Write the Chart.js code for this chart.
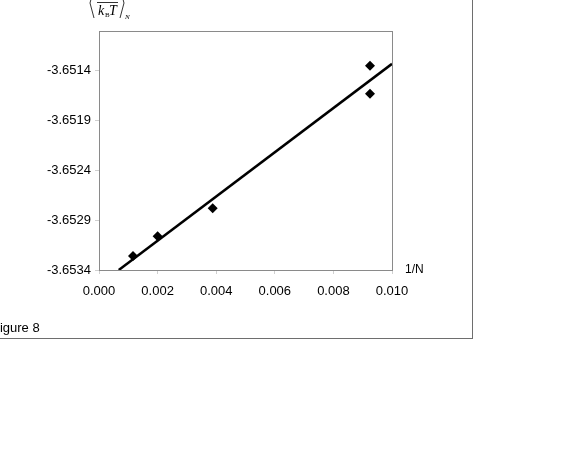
<!DOCTYPE html>
<html>
<head>
<meta charset="utf-8">
<script src="https://cdn.jsdelivr.net/npm/chart.js@4.4.1/dist/chart.umd.min.js"></script>
<style>
  html, body { margin: 0; padding: 0; background: #fff; }
  #wrap { width: 570px; height: 460px; }
</style>
</head>
<body>
<div id="wrap"><canvas id="fig8" width="570" height="460"></canvas></div>
<script>
// measured points: 1/N vs <1/(kB T)>_N
var invN = [0.00116, 0.0020, 0.00388, 0.00925, 0.00925];
var invKT = [-3.65326, -3.65306, -3.65278, -3.65135, -3.65163];

// fitted line at both ends
var fitX = [0.000675, 0.010];
var fitY = [-3.6534, -3.65133];

var yTicks = [-3.6534, -3.6529, -3.6524, -3.6519, -3.6514];
var xTicks = [0.000, 0.002, 0.004, 0.006, 0.008, 0.010];

var FONT = 'Arial, "Liberation Sans", sans-serif';

var extras = {
  id: 'extras',
  afterDraw: function(chart) {
    var ctx = chart.ctx;
    var a = chart.chartArea;
    ctx.save();
    // plot frame
    ctx.strokeStyle = '#8a8a8a';
    ctx.lineWidth = 1;
    ctx.strokeRect(Math.round(a.left) + 0.5, Math.round(a.top) + 0.5,
      Math.round(a.right - a.left), Math.round(a.bottom - a.top));
    // outer figure frame
    ctx.strokeStyle = '#6e6e6e';
    ctx.strokeRect(-1.5, -1.5, 474, 340);

    ctx.fillStyle = '#000';
    ctx.font = '12px ' + FONT;
    ctx.textBaseline = 'middle';
    ctx.textAlign = 'left';
    ctx.fillText('1/N', 405, 270);
    ctx.font = '13px ' + FONT;
    ctx.fillText('Figure 8', -8, 328);

    // y axis title: <1/(k_B T)>_N
    ctx.strokeStyle = '#000';
    ctx.lineWidth = 0.8;
    ctx.beginPath();
    ctx.moveTo(97, 2.5); ctx.lineTo(118, 2.5);
    ctx.stroke();
    ctx.beginPath();
    ctx.moveTo(94, -12); ctx.lineTo(90, 3); ctx.lineTo(94, 18);
    ctx.moveTo(120, -12); ctx.lineTo(124, 3); ctx.lineTo(120, 18);
    ctx.stroke();
    ctx.textBaseline = 'alphabetic';
    ctx.font = '13px "Liberation Serif", "Times New Roman", serif';
    ctx.fillText('1', 104, 0);
    ctx.font = 'italic 14px "Liberation Serif", "Times New Roman", serif';
    ctx.fillText('k', 98, 15);
    ctx.fillText('T', 109, 15);
    ctx.font = '7px "Liberation Serif", "Times New Roman", serif';
    ctx.fillText('B', 105, 17);
    ctx.font = 'italic 7px "Liberation Serif", "Times New Roman", serif';
    ctx.fillText('N', 125, 19);
    ctx.restore();
  }
};

new Chart(document.getElementById('fig8'), {
  type: 'scatter',
  data: {
    datasets: [{
      label: 'data',
      data: invN.map(function(x, i) { return { x: x, y: invKT[i] }; }),
      pointStyle: 'rectRot',
      pointRadius: 5,
      backgroundColor: '#000',
      borderColor: '#000',
      borderWidth: 0
    }, {
      label: 'fit',
      data: fitX.map(function(x, i) { return { x: x, y: fitY[i] }; }),
      showLine: true,
      pointRadius: 0,
      borderColor: '#000',
      borderWidth: 2.5
    }]
  },
  options: {
    responsive: false,
    animation: false,
    layout: { padding: { left: 0, top: 31, right: 178, bottom: 160 } },
    plugins: { legend: { display: false }, tooltip: { enabled: false } },
    scales: {
      x: {
        type: 'linear',
        min: 0, max: 0.010,
        afterFit: function(s) { s.height = 30; },
        afterBuildTicks: function(s) { s.ticks = xTicks.map(function(v) { return { value: v }; }); },
        ticks: {
          color: '#000',
          font: { family: FONT, size: 13 },
          padding: 10,
          callback: function(v) { return v.toFixed(3); }
        },
        grid: { drawOnChartArea: false, tickLength: 4, color: '#d0d0d0' },
        border: { display: false }
      },
      y: {
        type: 'linear',
        min: -3.6534, max: -3.6510,
        afterFit: function(s) { s.width = 99; },
        afterBuildTicks: function(s) { s.ticks = yTicks.map(function(v) { return { value: v }; }); },
        ticks: {
          color: '#000',
          font: { family: FONT, size: 13 },
          padding: 4,
          callback: function(v) { return v.toFixed(4); }
        },
        grid: { drawOnChartArea: false, tickLength: 4, color: '#d0d0d0' },
        border: { display: false }
      }
    }
  },
  plugins: [extras]
});
</script>
</body>
</html>
